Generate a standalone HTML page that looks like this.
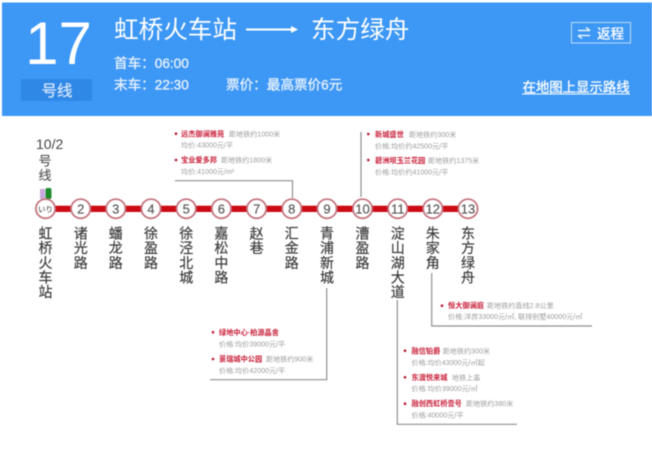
<!DOCTYPE html>
<html lang="zh">
<head>
<meta charset="utf-8">
<style>
html,body{margin:0;padding:0;background:#fff}
body{width:652px;height:464px;overflow:hidden;position:relative;font-family:"Liberation Sans","Noto Sans CJK SC",sans-serif}
svg{position:absolute;left:0;top:0;filter:blur(.4px)}
text{font-family:"Liberation Sans","Noto Sans CJK SC",sans-serif}
.w{fill:#fff}
.h{font-size:13.6px;fill:#e8f2fd;stroke:#e8f2fd;stroke-width:.3}
.n{font-size:13px;fill:#555;text-anchor:middle;stroke:#555;stroke-width:.15}
.s{font-size:14px;fill:#3d3d3d;text-anchor:middle;stroke:#3d3d3d;stroke-width:.2}
.r{font-size:7.2px;font-weight:700;fill:#c8203a}
.g{font-size:7.1px;fill:#9c9c9c}
.c{fill:#fff;stroke:#c4757f;stroke-width:1.8}
.l{fill:none;stroke:#8f8f8f;stroke-width:1.2}
</style>
</head>
<body>
<svg width="652" height="464" viewBox="0 0 652 464" xmlns="http://www.w3.org/2000/svg">
<rect x="2" y="2.5" width="650" height="113.5" fill="#3d97f5"/>
<text x="58.5" y="64" class="w" font-size="60" text-anchor="middle">17</text>
<rect x="21" y="79" width="71" height="22" fill="#2f87e6"/>
<text x="57" y="96" font-size="15.5" fill="#d7e8fb" stroke="#d7e8fb" stroke-width=".25" text-anchor="middle">号线</text>
<text x="114" y="38" class="w" font-size="24.6">虹桥火车站</text>
<path d="M246 29.5H292" stroke="#fff" stroke-width="2"/>
<path d="M291 26L298 29.5L291 33Z" fill="#fff"/>
<text x="311" y="38" class="w" font-size="24.6">东方绿舟</text>
<text x="114" y="68" class="h">首车：06:00</text>
<text x="114" y="89.5" class="h">末车：22:30</text>
<text x="226" y="89.5" class="h">票价：最高票价6元</text>
<rect x="571.5" y="22.5" width="59" height="20.5" fill="none" stroke="#bcdcfb" stroke-width="1"/>
<path d="M578 30.5H590M586 27.5L590 30.5M578 35.5H590M578 35.5L582 38.5" stroke="#fff" stroke-width="1.3" fill="none"/>
<text x="597" y="38.5" class="w" font-size="13.5" stroke="#fff" stroke-width=".3">返程</text>
<text x="522.5" y="92" class="w" font-size="13.4" stroke="#fff" stroke-width=".3">在地图上显示路线</text>
<path d="M522 94H630" stroke="#fff" stroke-width="1"/>

<text x="36" y="149" font-size="14" fill="#444">10/2</text>
<text x="45" y="165.5" class="n">号</text>
<text x="45" y="180" class="n">线</text>
<rect x="40" y="189" width="5" height="10" fill="#c9a9dc"/>
<rect x="45.5" y="188" width="6" height="11" rx="2" fill="#1d8a2c"/>

<rect x="45" y="205.7" width="424" height="6.3" fill="#cc0a13"/>

<path class="l" d="M175 180.7H292.5V198"/>
<path class="l" d="M361 132V197"/>
<path class="l" d="M326.7 288V379.7H210"/>
<path class="l" d="M397.3 300V424.3H517"/>
<path class="l" d="M431.7 273V326H592"/>

<g>
<circle class="c" cx="45.5" cy="208.7" r="9.6"/><circle class="c" cx="80.7" cy="208.7" r="9.6"/><circle class="c" cx="115.8" cy="208.7" r="9.6"/><circle class="c" cx="151" cy="208.7" r="9.6"/><circle class="c" cx="186.2" cy="208.7" r="9.6"/><circle class="c" cx="221.4" cy="208.7" r="9.6"/><circle class="c" cx="256.6" cy="208.7" r="9.6"/><circle class="c" cx="291.8" cy="208.7" r="9.6"/><circle class="c" cx="327" cy="208.7" r="9.6"/><circle class="c" cx="362.5" cy="208.7" r="9.6"/><circle class="c" cx="397.7" cy="208.7" r="9.6"/><circle class="c" cx="432.8" cy="208.7" r="9.6"/><circle class="c" cx="468" cy="208.7" r="9.6"/>
</g>
<g>
<text class="n" x="45.5" y="212" style="font-size:7.5px">いり</text>
<text class="n" x="80.7" y="213.3">2</text><text class="n" x="115.8" y="213.3">3</text><text class="n" x="151" y="213.3">4</text><text class="n" x="186.2" y="213.3">5</text><text class="n" x="221.4" y="213.3">6</text><text class="n" x="256.6" y="213.3">7</text><text class="n" x="291.8" y="213.3">8</text><text class="n" x="327" y="213.3">9</text><text class="n" x="362.5" y="213.3">10</text><text class="n" x="397.7" y="213.3">11</text><text class="n" x="432.8" y="213.3">12</text><text class="n" x="468" y="213.3">13</text>
</g>

<g>
<text class="s"><tspan x="45.5" y="238.5">虹</tspan><tspan x="45.5" y="253">桥</tspan><tspan x="45.5" y="268">火</tspan><tspan x="45.5" y="282.5">车</tspan><tspan x="45.5" y="297">站</tspan></text>
<text class="s"><tspan x="80.7" y="238.5">诸</tspan><tspan x="80.7" y="253">光</tspan><tspan x="80.7" y="268">路</tspan></text>
<text class="s"><tspan x="115.8" y="238.5">蟠</tspan><tspan x="115.8" y="253">龙</tspan><tspan x="115.8" y="268">路</tspan></text>
<text class="s"><tspan x="151" y="238.5">徐</tspan><tspan x="151" y="253">盈</tspan><tspan x="151" y="268">路</tspan></text>
<text class="s"><tspan x="186.2" y="238.5">徐</tspan><tspan x="186.2" y="253">泾</tspan><tspan x="186.2" y="268">北</tspan><tspan x="186.2" y="282.5">城</tspan></text>
<text class="s"><tspan x="221.4" y="238.5">嘉</tspan><tspan x="221.4" y="253">松</tspan><tspan x="221.4" y="268">中</tspan><tspan x="221.4" y="282.5">路</tspan></text>
<text class="s"><tspan x="256.6" y="238.5">赵</tspan><tspan x="256.6" y="253">巷</tspan></text>
<text class="s"><tspan x="291.8" y="238.5">汇</tspan><tspan x="291.8" y="253">金</tspan><tspan x="291.8" y="268">路</tspan></text>
<text class="s"><tspan x="327" y="238.5">青</tspan><tspan x="327" y="253">浦</tspan><tspan x="327" y="268">新</tspan><tspan x="327" y="282.5">城</tspan></text>
<text class="s"><tspan x="362.5" y="238.5">漕</tspan><tspan x="362.5" y="253">盈</tspan><tspan x="362.5" y="268">路</tspan></text>
<text class="s"><tspan x="397.7" y="238.5">淀</tspan><tspan x="397.7" y="253">山</tspan><tspan x="397.7" y="268">湖</tspan><tspan x="397.7" y="282.5">大</tspan><tspan x="397.7" y="297">道</tspan></text>
<text class="s"><tspan x="432.8" y="238.5">朱</tspan><tspan x="432.8" y="253">家</tspan><tspan x="432.8" y="268">角</tspan></text>
<text class="s"><tspan x="468" y="238.5">东</tspan><tspan x="468" y="253">方</tspan><tspan x="468" y="268">绿</tspan><tspan x="468" y="282.5">舟</tspan></text>
</g>

<g fill="#b8132b">
<circle cx="176" cy="133.7" r="1.3"/><circle cx="176" cy="160" r="1.3"/>
<circle cx="368.3" cy="134" r="1.3"/><circle cx="368.3" cy="160" r="1.3"/>
<circle cx="442" cy="305.7" r="1.3"/>
<circle cx="213" cy="332.3" r="1.3"/><circle cx="213" cy="359" r="1.3"/>
<circle cx="405" cy="350.7" r="1.3"/><circle cx="405" cy="377.3" r="1.3"/><circle cx="405" cy="403.7" r="1.3"/>
</g>

<text class="r" x="181" y="136.3">远杰御澜雅苑</text><text class="g" x="229" y="136.3">距地铁约1000米</text>
<text class="g" x="181" y="147.5">均价:43000元/平</text>
<text class="r" x="181" y="162.5">宝业爱多邦</text><text class="g" x="221" y="162.5">距地铁约1800米</text>
<text class="g" x="181" y="174.2">均价:41000元/m²</text>

<text class="r" x="375" y="137">新城盛世</text><text class="g" x="409" y="137">距地铁约300米</text>
<text class="g" x="375" y="148.5">价格:均价约42500元/平</text>
<text class="r" x="375" y="163">碧洲坝玉兰花园</text><text class="g" x="428" y="163">距地铁约1375米</text>
<text class="g" x="375" y="174.5">价格:均价约41000元/平</text>

<text class="r" x="448" y="308">恒大御澜庭</text><text class="g" x="487" y="308">距地铁约直线2.8公里</text>
<text class="g" x="448" y="319">价格:洋房33000元/㎡, 联排别墅40000元/㎡</text>

<text class="r" x="219" y="335">绿地中心·柏源晶舍</text>
<text class="g" x="219" y="346.5">价格:均价39000元/平</text>
<text class="r" x="219" y="361.5">景瑞城中公园</text><text class="g" x="266" y="361.5">距地铁约900米</text>
<text class="g" x="219" y="373">价格:均价42000元/平</text>

<text class="r" x="411.5" y="353.3">融信铂爵</text><text class="g" x="442.7" y="353.3">距地铁约300米</text>
<text class="g" x="411.5" y="364.8">价格:均价43000元/㎡起</text>
<text class="r" x="411.5" y="380">东渡悦来城</text><text class="g" x="452" y="380">地铁上盖</text>
<text class="g" x="411.5" y="391">价格:均价39000元/㎡</text>
<text class="r" x="411.5" y="406">融创西虹桥壹号</text><text class="g" x="466" y="406">距地铁约380米</text>
<text class="g" x="411.5" y="417.5">价格:40000元/平</text>
</svg>
</body>
</html>
